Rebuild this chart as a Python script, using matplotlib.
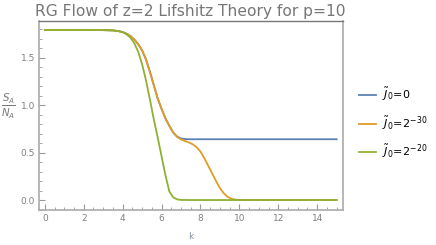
import matplotlib
matplotlib.use("Agg")
import matplotlib.pyplot as plt
from matplotlib.ticker import MultipleLocator

# values
k_blue = [0, 2, 3.0, 3.5, 3.8, 4.0, 4.2, 4.4, 4.6, 4.8, 5.0, 5.2, 5.4, 5.6, 5.8,
          6.0, 6.2, 6.4, 6.6, 6.8, 7.0, 7.2, 7.5, 8, 15]
s_blue = [1.79, 1.79, 1.789, 1.786, 1.778, 1.768, 1.752, 1.727, 1.69, 1.64, 1.575,
          1.48, 1.35, 1.21, 1.07, 0.96, 0.86, 0.78, 0.71, 0.668, 0.648, 0.642,
          0.64, 0.64, 0.64]

k_orange = [0, 2, 3.0, 3.5, 3.8, 4.0, 4.2, 4.4, 4.6, 4.8, 5.0, 5.2, 5.4, 5.6, 5.8,
            6.0, 6.2, 6.4, 6.6, 6.8, 7.0, 7.2, 7.4, 7.6, 7.8, 8.0, 8.2, 8.4, 8.6,
            8.8, 9.0, 9.2, 9.4, 9.6, 9.8, 10.0, 10.5, 15]
s_orange = [1.79, 1.79, 1.789, 1.786, 1.778, 1.768, 1.752, 1.727, 1.69, 1.64, 1.575,
            1.48, 1.35, 1.21, 1.07, 0.96, 0.86, 0.78, 0.71, 0.665, 0.638, 0.622,
            0.607, 0.587, 0.557, 0.51, 0.44, 0.36, 0.28, 0.20, 0.125, 0.07, 0.033,
            0.012, 0.004, 0.001, 0.0, 0.0]

k_green = [0, 2, 3.0, 3.5, 3.8, 4.0, 4.2, 4.4, 4.6, 4.8, 5.0, 5.2, 5.4, 5.6, 5.8,
           6.0, 6.2, 6.4, 6.6, 6.8, 7.0, 7.5, 15]
s_green = [1.79, 1.79, 1.789, 1.786, 1.778, 1.768, 1.745, 1.71, 1.65, 1.56, 1.43,
           1.26, 1.06, 0.85, 0.66, 0.46, 0.26, 0.09, 0.028, 0.007, 0.001, 0.0, 0.0]

labels = [r'$\tilde{J}_0\!=\!0$', r'$\tilde{J}_0\!=\!2^{-30}$', r'$\tilde{J}_0\!=\!2^{-20}$']
colors = ['#5E81B5', '#E19C24', '#8FB032']

fig = plt.figure(figsize=(4.36, 2.45), dpi=100)
ax = fig.add_axes([39/436, 35/245, (342.5-39)/436, (210-21)/245])

ax.plot(k_blue, s_blue, color=colors[0], lw=1.3, label=labels[0])
ax.plot(k_orange, s_orange, color=colors[1], lw=1.3, label=labels[1])
ax.plot(k_green, s_green, color=colors[2], lw=1.3, label=labels[2])

ax.set_xlim(-0.3, 15.3)
ax.set_ylim(-0.105, 1.885)

ax.xaxis.set_major_locator(MultipleLocator(2))
ax.xaxis.set_minor_locator(MultipleLocator(0.5))
ax.yaxis.set_minor_locator(MultipleLocator(0.1))
ax.set_yticks([0, 0.5, 1.0, 1.5])
ax.set_yticklabels(['0.0', '0.5', '1.0', '1.5'])

ax.tick_params(which='both', direction='in', colors='#999999', labelcolor='#808080',
               labelsize=6.5, top=False, right=False)
ax.tick_params(which='major', length=4, width=0.8, pad=3)
ax.tick_params(which='minor', length=2, width=0.6)

for side in ['left', 'bottom', 'right']:
    ax.spines[side].set_color('#aaaaaa')
    ax.spines[side].set_linewidth(1.2)
ax.spines['top'].set_color('#777777')
ax.spines['top'].set_linewidth(1.0)

ax.set_xlabel('k', color='#8090a8', fontsize=6.5, labelpad=6)
ax.set_ylabel(r'$\frac{S_A}{N_A}$', color='#777777', fontsize=10.5, rotation=0)
ax.yaxis.set_label_coords(-0.1, 0.47)

fig.text(0.437, 0.955, 'RG Flow of z=2 Lifshitz Theory for p=10', ha='center', va='center',
         fontsize=11.2, color='#777777')

ax.legend(loc='center left', bbox_to_anchor=(1.02, 0.46), frameon=False, fontsize=8,
          handlelength=1.6, labelspacing=1.0, handletextpad=0.5)

fig.savefig('out.png', dpi=100)
